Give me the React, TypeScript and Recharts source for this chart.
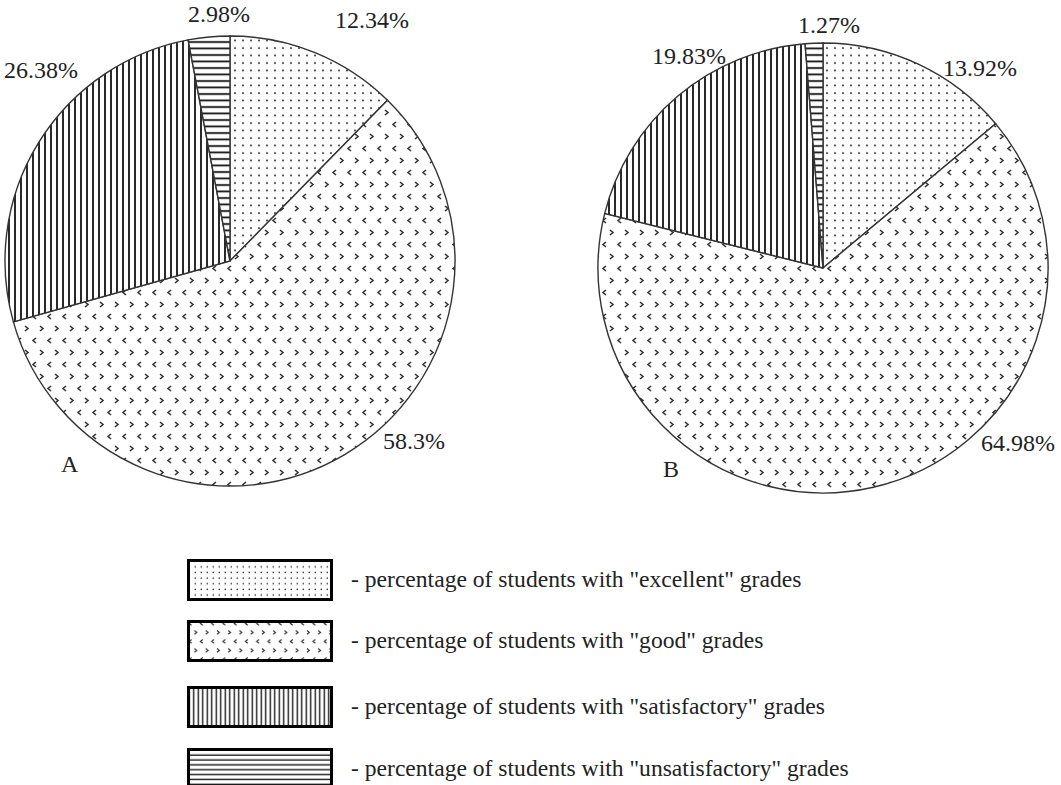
import { PieChart, Pie, Cell } from "recharts";

const categories = ["excellent", "good", "satisfactory", "unsatisfactory"];
const shareA = [12.34, 58.3, 26.38, 2.98];
const shareB = [13.92, 64.98, 19.83, 1.27];
const panelNames = ["A", "B"];

const dataA = categories.map((c, i) => ({ name: c, value: shareA[i] }));
const dataB = categories.map((c, i) => ({ name: c, value: shareB[i] }));

// where each percentage sits, measured from its pie centre
const offsetsA = [[142, -241], [184, 180], [-189, -191], [-11, -247]];
const offsetsB = [[157, -200], [195, 175], [-134, -212], [6, -243]];

const FONT = "'Liberation Serif', 'Times New Roman', serif";

function Patterns({ prefix, scale }: { prefix: string; scale: number }) {
  const t = `scale(${scale})`;
  return (
    <>
      <pattern id={`${prefix}-excellent`} width={8} height={7.5} patternUnits="userSpaceOnUse" patternTransform={t}>
        <rect width={8} height={7.5} fill="#fff" />
        <circle cx={3} cy={3} r={1} fill="#222" />
      </pattern>
      <pattern id={`${prefix}-good`} width={15} height={24} patternUnits="userSpaceOnUse" patternTransform={t}>
        <rect width={15} height={24} fill="#fff" />
        <path d="M6,2 L3,4.5 L6,7" stroke="#333" strokeWidth={1.6} fill="none" />
        <path d="M10,14 L13,16.5 L10,19" stroke="#333" strokeWidth={1.6} fill="none" />
      </pattern>
      <pattern id={`${prefix}-satisfactory`} width={6} height={6} patternUnits="userSpaceOnUse" patternTransform={t}>
        <rect width={6} height={6} fill="#fff" />
        <line x1={3} y1={0} x2={3} y2={6} stroke="#111" strokeWidth={1.8} />
      </pattern>
      <pattern id={`${prefix}-unsatisfactory`} width={6.5} height={6.5} patternUnits="userSpaceOnUse" patternTransform={t}>
        <rect width={6.5} height={6.5} fill="#fff" />
        <line x1={0} y1={3} x2={6.5} y2={3} stroke="#111" strokeWidth={1.8} />
      </pattern>
    </>
  );
}

const makeLabel = (offsets: number[][]) => (props: any) => {
  const { cx, cy, index, value } = props;
  const [dx, dy] = offsets[index];
  return (
    <text
      x={cx + dx}
      y={cy + dy}
      textAnchor="middle"
      dominantBaseline="central"
      fontFamily={FONT}
      fontSize={24}
      fill="#222"
    >
      {value}%
    </text>
  );
};

export default function App() {
  return (
    <div style={{ position: "relative", width: 1061, height: 785, background: "#fff", fontFamily: FONT }}>
      <style>{"body{margin:0}"}</style>
      <div style={{ position: "absolute", left: 0, top: 0 }}>
        <PieChart width={1061} height={785} margin={{ top: 0, right: 0, bottom: 0, left: 0 }}>
          <defs>
            <Patterns prefix="pie" scale={1} />
            <Patterns prefix="leg" scale={0.75} />
          </defs>
          <Pie
            data={dataA}
            dataKey="value"
            cx={230}
            cy={261}
            outerRadius={225}
            startAngle={90}
            endAngle={-270}
            stroke="#333"
            strokeWidth={1.4}
            label={makeLabel(offsetsA)}
            labelLine={false}
            isAnimationActive={false}
          >
            {dataA.map((d) => (
              <Cell key={d.name} fill={`url(#pie-${d.name})`} />
            ))}
          </Pie>
          <Pie
            data={dataB}
            dataKey="value"
            cx={823}
            cy={268}
            outerRadius={225}
            startAngle={90}
            endAngle={-270}
            stroke="#333"
            strokeWidth={1.4}
            label={makeLabel(offsetsB)}
            labelLine={false}
            isAnimationActive={false}
          >
            {dataB.map((d) => (
              <Cell key={d.name} fill={`url(#pie-${d.name})`} />
            ))}
          </Pie>
        </PieChart>
      </div>
      <div style={{ position: "absolute", left: 61, top: 451, fontSize: 24, color: "#222" }}>{panelNames[0]}</div>
      <div style={{ position: "absolute", left: 663, top: 456, fontSize: 24, color: "#222" }}>{panelNames[1]}</div>
      <div style={{ position: "absolute", left: 187, top: 559 }}>
        {categories.map((c, i) => (
          <div key={c} style={{ display: "flex", alignItems: "center", height: 41, marginBottom: i === 0 ? 20 : i === 1 ? 25 : 21 }}>
            <svg width={146} height={42} style={{ display: "block" }}>
              <rect x={1.5} y={1.5} width={143} height={39} fill={`url(#leg-${c})`} stroke="#000" strokeWidth={3} />
            </svg>
            <span style={{ marginLeft: 18, fontSize: 23.6, color: "#222", whiteSpace: "nowrap" }}>
              - percentage of students with "{c}" grades
            </span>
          </div>
        ))}
      </div>
    </div>
  );
}
